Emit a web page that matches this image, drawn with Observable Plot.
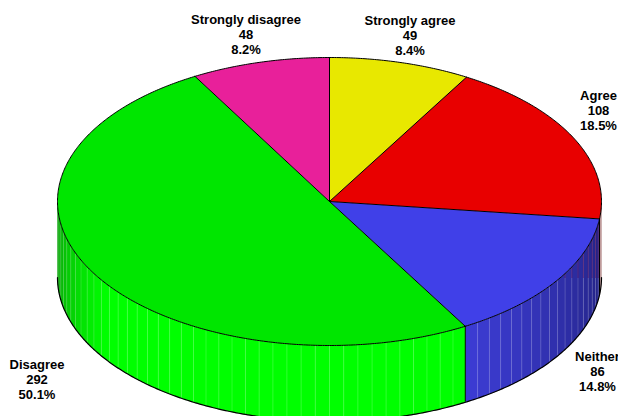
<!DOCTYPE html>
<html>
<head>
<meta charset="utf-8">
<script src="https://cdn.jsdelivr.net/npm/d3@7"></script>
<script src="https://cdn.jsdelivr.net/npm/@observablehq/plot@0.6"></script>
<style>
html,body{margin:0;padding:0;background:#fff;overflow:hidden}
svg{display:block}
</style>
</head>
<body>
<div id="chart"></div>
<script>
const categories = ["Strongly agree","Agree","Neither","Disagree","Strongly disagree"];
const counts = [49,108,86,292,48];
const topColors = ["#e8e800","#e80000","#4040e8","#00e600","#e8209a"];
const wallNear = ["#e8e800","#b89090","#3c3cd4","#00ff00","#e8209a"];
const wallFar  = ["#e8e800","#b89090","#20207a","#0a9c0a","#e8209a"];

// layout (separate from the data)
const W=618,H=416,cx=329,cy=201,rx=272,ry=144,depth=76/144,step=3;
const labelCenter = [[409.5,35],[598,110],[597,371],[36.5,379],[245.5,34]];

const total = d3.sum(counts);
let acc=0;
const slices = categories.map((name,i)=>{
  const a0=acc/total*360; acc+=counts[i]; const a1=acc/total*360;
  return {name,i,count:counts[i],a0,a1,pct:(counts[i]/total*100).toFixed(1)+"%"};
});
const rad=d=>d*Math.PI/180;
const px=a=>Math.sin(rad(a));
const py=a=>-Math.cos(rad(a));

// top faces
const topPts=[];
for(const s of slices){
  topPts.push({id:s.i,x:0,y:0,fill:topColors[s.i]});
  const n=Math.ceil((s.a1-s.a0)/0.5);
  for(let k=0;k<=n;k++){const a=s.a0+(s.a1-s.a0)*k/n;topPts.push({id:s.i,x:px(a),y:py(a),fill:topColors[s.i]});}
  topPts.push({id:s.i,x:0,y:0,fill:topColors[s.i]});
}

// wall facets (visible half: 90..270 degrees)
const facets=[],seams=[],backSeams=[];
const backLevel=(278-cy)/ry;
function shade(s,a){
  if(s.i===3){
    const t=Math.max(0,(a-235)/35);
    return d3.interpolateRgb(wallNear[3],wallFar[3])(t);
  }
  if(s.i===2){ const t=(150-a)/60; return d3.interpolateRgb(wallNear[2],wallFar[2])(t);}
  return wallNear[s.i];
}
let fid=0;
for(const s of slices){
  const lo=Math.max(s.a0,90),hi=Math.min(s.a1,270);
  if(hi<=lo) continue;
  const edges=[lo];
  for(let a=Math.ceil(lo/step)*step;a<hi;a+=step) if(a>lo) edges.push(a);
  edges.push(hi);
  for(let k=0;k<edges.length-1;k++){
    const a=edges[k],b=edges[k+1],c=shade(s,(a+b)/2);
    const m=Math.max(2,Math.ceil((b-a)/0.5));
    const pts=[];
    for(let j=0;j<=m;j++){const t=a+(b-a)*j/m;pts.push([px(t),py(t)]);}
    const ring=[...pts,...pts.slice().reverse().map(p=>[p[0],p[1]+depth])];
    ring.push(ring[0]);
    ring.forEach(p=>facets.push({id:fid,x:p[0],y:p[1],fill:c}));
    fid++;
    if(k>0){
      const top=py(a),bot=py(a)+depth;
      if(s.i===2&&top<backLevel-0.01){
        backSeams.push({x:px(a),y1:top,y2:backLevel});
        seams.push({x:px(a),y1:backLevel,y2:bot});
      } else seams.push({x:px(a),y1:top,y2:bot});
    }
  }
}

// outlines
const rimTop=[],rimBottom=[];
for(let a=0;a<=360;a+=0.5) rimTop.push({x:px(a),y:py(a)});
for(let a=90;a<=270;a+=0.5) rimBottom.push({x:px(a),y:py(a)+depth});
const spokes=slices.map(s=>[{id:s.i,x:0,y:0},{id:s.i,x:px(s.a0),y:py(s.a0)}]).flat();
const wallEdges=slices.filter(s=>s.a0>90&&s.a0<270).map(s=>({x:px(s.a0),y1:py(s.a0),y2:py(s.a0)+depth}));

// labels
const labels=slices.map(s=>({
  x:(labelCenter[s.i][0]-cx)/rx,
  y:(labelCenter[s.i][1]-cy)/ry,
  text:`${s.name}\n${s.count}\n${s.pct}`
}));

const plot=Plot.plot({
  width:W,height:H,margin:0,
  style:{background:"#fff",fontFamily:"'Liberation Sans',Arial,sans-serif"},
  x:{domain:[-cx/rx,(W-cx)/rx],axis:null},
  y:{domain:[-cy/ry,(H-cy)/ry],range:[0,H],axis:null},
  color:{type:"identity"},
  marks:[
    Plot.line(facets,{x:"x",y:"y",z:"id",fill:"fill",stroke:"fill",strokeWidth:0.3,curve:"linear"}),
    Plot.ruleX(seams,{x:"x",y1:"y1",y2:"y2",stroke:"#fff",strokeOpacity:0.24,strokeWidth:0.7}),
    Plot.ruleX(backSeams,{x:"x",y1:"y1",y2:"y2",stroke:"#8a1c50",strokeOpacity:0.6,strokeWidth:0.7}),
    Plot.line(topPts,{x:"x",y:"y",z:"id",fill:"fill",stroke:"none",curve:"linear"}),
    Plot.line(rimBottom,{x:"x",y:"y",stroke:"#000",strokeWidth:1.2,curve:"linear"}),
    Plot.ruleX(wallEdges,{x:"x",y1:"y1",y2:"y2",stroke:"#000",strokeWidth:1}),
    Plot.line(spokes,{x:"x",y:"y",z:"id",stroke:"#000",strokeWidth:1,curve:"linear"}),
    Plot.line(rimTop,{x:"x",y:"y",stroke:"#000",strokeWidth:1,curve:"linear"}),
    Plot.text(labels,{x:"x",y:"y",text:"text",fontSize:13,fontWeight:"bold",fill:"#000",lineHeight:1.16,textAnchor:"middle",lineAnchor:"middle"})
  ]
});
document.getElementById("chart").appendChild(plot);
</script>
</body>
</html>
